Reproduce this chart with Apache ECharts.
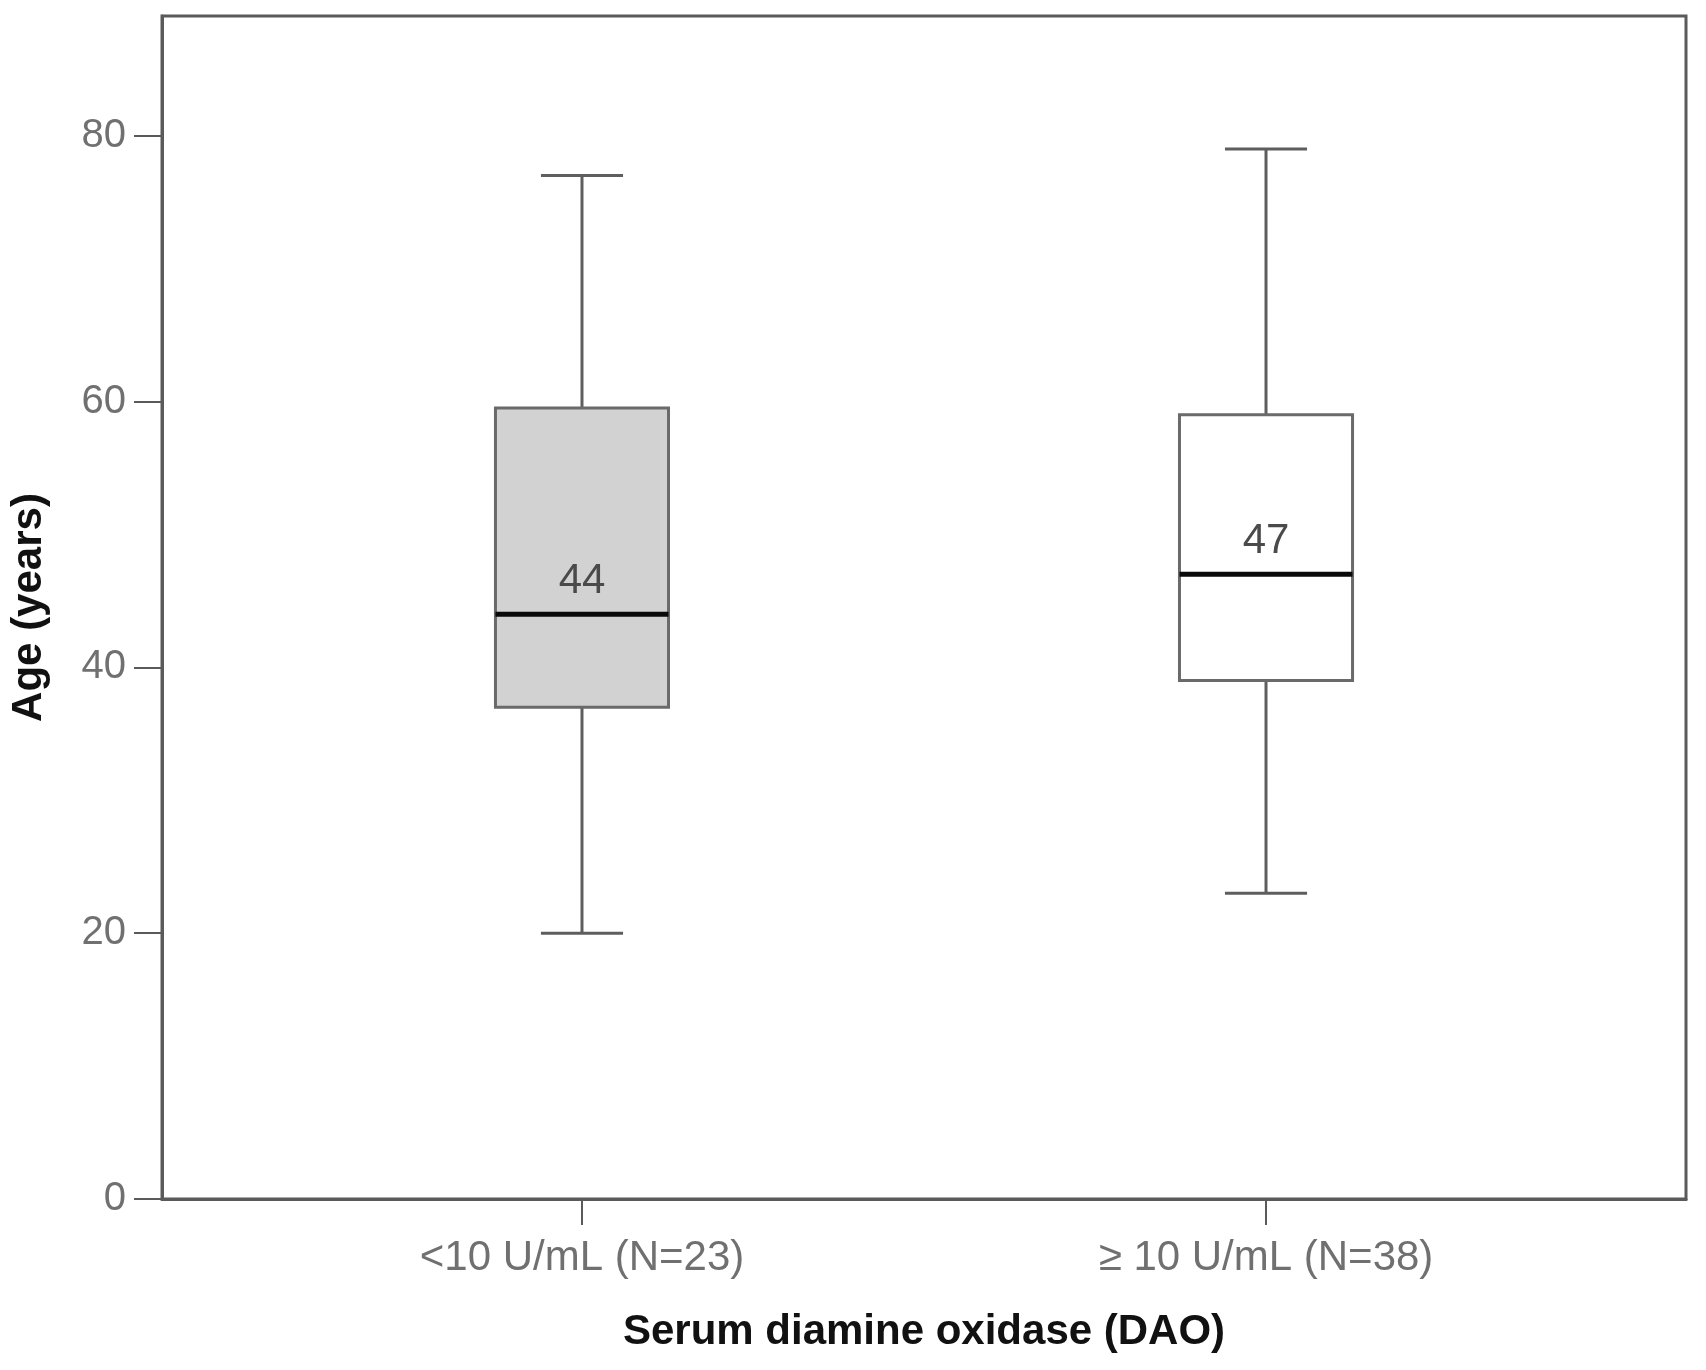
<!DOCTYPE html>
<html>
<head>
<meta charset="utf-8">
<script src="https://cdn.jsdelivr.net/npm/echarts@6/dist/echarts.min.js"></script>
<style>
html,body{margin:0;padding:0;background:#fff;}
#chart{width:1706px;height:1370px;}
</style>
</head>
<body>
<div id="chart"></div>
<script>
// Data
const categories = ['<10 U/mL (N=23)', '\u2265 10 U/mL (N=38)'];
const whiskerLow = [20, 23];
const q1Values = [37, 39];
const medians = [44, 47];
const q3Values = [59.5, 59];
const whiskerHigh = [77, 79];
const boxFills = ['#d2d2d2', '#ffffff'];
const yTicks = [0, 20, 40, 60, 80];
const xPositions = [0, 1];

const seriesData = xPositions.map((x, i) => [x, whiskerLow[i], q1Values[i], medians[i], q3Values[i], whiskerHigh[i]]);

const BOX_W = 0.253;
const CAP_W = 0.12;

const chart = echarts.init(document.getElementById('chart'));
chart.setOption({
  backgroundColor: '#fff',
  animation: false,
  grid: {
    left: 161, right: 20, top: 16, bottom: 171,
    show: true, borderColor: '#5a5a5a', borderWidth: 3, backgroundColor: 'transparent'
  },
  xAxis: {
    type: 'value',
    min: -0.614, max: 1.614,
    name: 'Serum diamine oxidase (DAO)',
    nameLocation: 'middle',
    nameGap: 112,
    nameTextStyle: { fontFamily: 'Liberation Sans', fontWeight: 'bold', fontSize: 42, color: '#111' },
    axisLine: { show: true, onZero: false, lineStyle: { color: '#5a5a5a', width: 3 } },
    axisTick: { show: true, customValues: xPositions, length: 26, lineStyle: { color: '#5a5a5a', width: 2 } },
    axisLabel: {
      customValues: xPositions,
      margin: 38,
      fontFamily: 'Liberation Sans', fontSize: 42, color: '#707070',
      formatter: v => categories[Math.round(v)]
    },
    splitLine: { show: false }
  },
  yAxis: {
    type: 'value',
    min: 0, max: 89,
    name: 'Age (years)',
    nameLocation: 'middle',
    nameGap: 112,
    nameRotate: 90,
    nameTextStyle: { fontFamily: 'Liberation Sans', fontWeight: 'bold', fontSize: 42, color: '#111' },
    axisLine: { show: true, onZero: false, lineStyle: { color: '#5a5a5a', width: 3 } },
    axisTick: { show: true, customValues: yTicks, length: 28, lineStyle: { color: '#5a5a5a', width: 2 } },
    axisLabel: {
      customValues: yTicks,
      margin: 36,
      fontFamily: 'Liberation Sans', fontSize: 40, color: '#707070'
    },
    splitLine: { show: false }
  },
  series: [{
    type: 'custom',
    data: seriesData,
    encode: { x: 0, y: [1, 2, 3, 4, 5] },
    renderItem: function (params, api) {
      const x = api.value(0);
      const lo = api.coord([x, api.value(1)]);
      const q1 = api.coord([x, api.value(2)]);
      const med = api.coord([x, api.value(3)]);
      const q3 = api.coord([x, api.value(4)]);
      const hi = api.coord([x, api.value(5)]);
      const bw = api.size([BOX_W, 0])[0];
      const cw = api.size([CAP_W, 0])[0];
      const cx = lo[0];
      const whisk = { stroke: '#5e5e5e', lineWidth: 3 };
      return {
        type: 'group',
        children: [
          { type: 'line', shape: { x1: cx, y1: hi[1], x2: cx, y2: q3[1] }, style: whisk },
          { type: 'line', shape: { x1: cx, y1: q1[1], x2: cx, y2: lo[1] }, style: whisk },
          { type: 'line', shape: { x1: cx - cw / 2, y1: hi[1], x2: cx + cw / 2, y2: hi[1] }, style: whisk },
          { type: 'line', shape: { x1: cx - cw / 2, y1: lo[1], x2: cx + cw / 2, y2: lo[1] }, style: whisk },
          { type: 'rect', shape: { x: cx - bw / 2, y: q3[1], width: bw, height: q1[1] - q3[1] },
            style: { fill: boxFills[params.dataIndex], stroke: '#6a6a6a', lineWidth: 3 } },
          { type: 'line', shape: { x1: cx - bw / 2, y1: med[1], x2: cx + bw / 2, y2: med[1] },
            style: { stroke: '#0a0a0a', lineWidth: 5 } },
          { type: 'text', x: cx, y: med[1] - 12,
            style: { text: String(api.value(3)), fontFamily: 'Liberation Sans', fontSize: 42, fill: '#4a4a4a', align: 'center', verticalAlign: 'bottom' } }
        ]
      };
    }
  }]
});
</script>
</body>
</html>
